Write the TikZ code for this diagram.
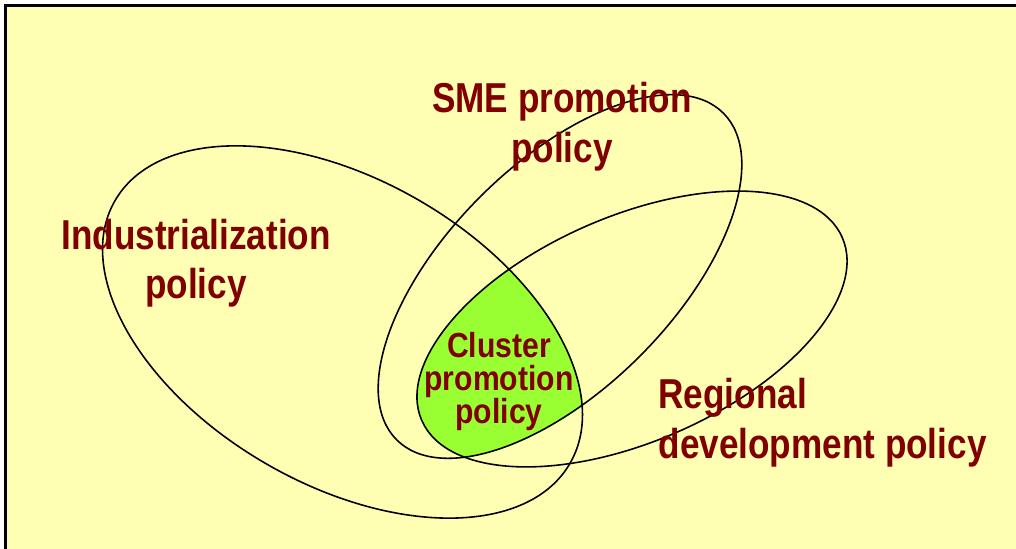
\documentclass[tikz,border=0pt]{standalone}
\usepackage{fontspec}
\setmainfont{Liberation Sans}
\usepackage{tikz}
\usetikzlibrary{positioning}
\definecolor{slidebg}{HTML}{FFFFB3}
\definecolor{policyred}{HTML}{800000}
\definecolor{clustergreen}{HTML}{99FF33}

\begin{document}
\begin{tikzpicture}[
 policy/.style={text=policyred, inner sep=0pt, xscale=0.84,
  font=\fontsize{11.9}{14.1}\selectfont\bfseries},
 ring/.style={black, line width=0.45pt}
]
\useasboundingbox (0,0) rectangle (10.16,5.49);

\fill[slidebg] (0.055,0) rectangle (10.16,5.435);
\draw[black, line width=0.6pt] (0.055,0)--(0.055,5.435)--(10.16,5.435);

\coordinate (ind) at (3.425,2.17);
\coordinate (sme) at (5.60,2.725);
\coordinate (reg) at (6.32,2.20);

% where all three overlap
\begin{scope}
\clip (ind) ellipse [x radius=2.627, y radius=1.523, rotate=-30];
\clip (sme) ellipse [x radius=2.31, y radius=1.128, rotate=45];
\fill[clustergreen] (reg) ellipse [x radius=2.293, y radius=1.126, rotate=23.5];
\end{scope}

\draw[ring] (ind) ellipse [x radius=2.627, y radius=1.523, rotate=-30];
\draw[ring] (sme) ellipse [x radius=2.31, y radius=1.128, rotate=45];
\draw[ring] (reg) ellipse [x radius=2.293, y radius=1.126, rotate=23.5];


\node[policy, anchor=north, align=center] (indtxt) at (1.96,3.31) {Industrialization\\policy};

\node[policy, anchor=north, align=center] (smetxt) at (5.62,4.67) {SME promotion\\policy};

\node[policy, anchor=north west, align=left] (regtxt) at (6.58,1.71) {Regional\\development policy};

\node[policy, anchor=north, align=center, xscale=1.03,
 font=\fontsize{9.9}{9.4}\selectfont\bfseries] (clutxt) at (4.99,2.17) {Cluster\\promotion\\policy};

\end{tikzpicture}
\end{document}
